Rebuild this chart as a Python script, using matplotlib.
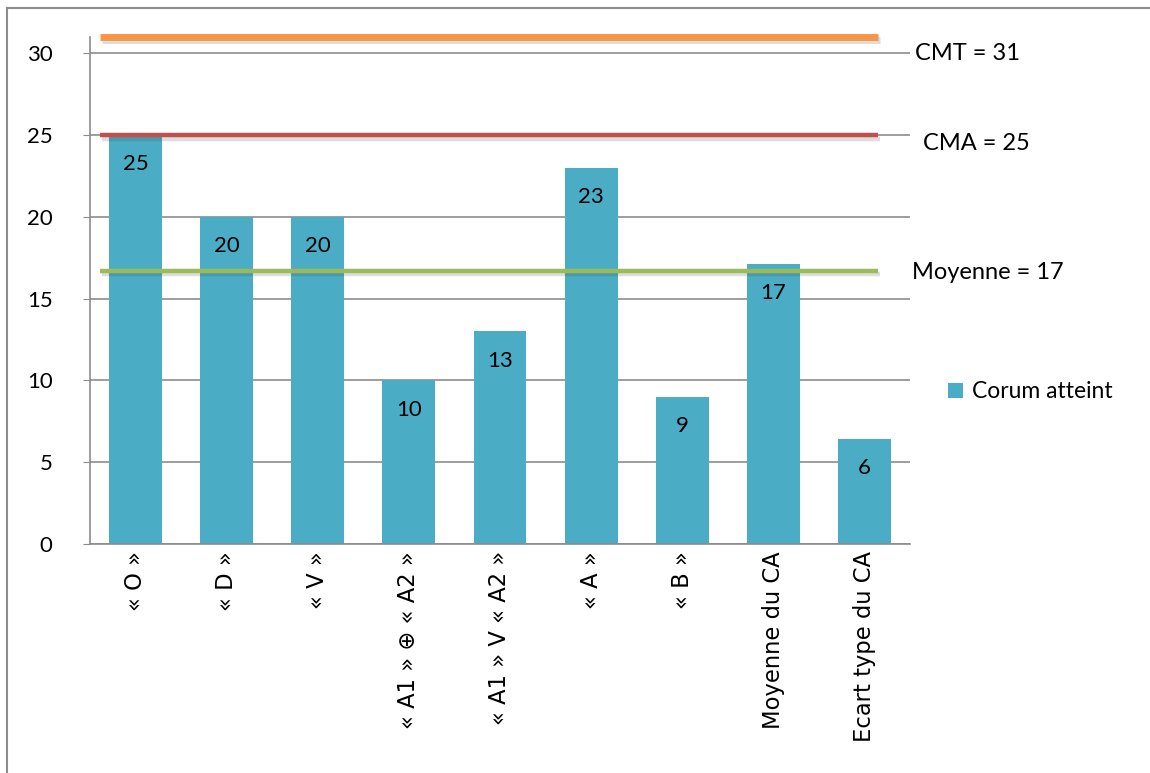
import matplotlib
matplotlib.use("Agg")
import matplotlib.pyplot as plt
from matplotlib.lines import Line2D
import matplotlib.patheffects as pe

plt.rcParams['font.family'] = ['DejaVu Sans']
MAIN = ['Lato', 'DejaVu Sans']

categories = ["« O »", "« D »", "« V »", "« A1 » \u2295 « A2 »", "« A1 » V « A2 »",
              "« A »", "« B »", "Moyenne du CA", "Ecart type du CA"]
values = [25, 20, 20, 10, 13, 23, 9, 17.1, 6.4]
value_labels = ["25", "20", "20", "10", "13", "23", "9", "17", "6"]
series_name = "Corum atteint"

ref_values = [31, 25, 16.7]
ref_labels = ["CMT = 31", "CMA = 25", "Moyenne = 17"]
ref_colors = ["#F79646", "#C0504D", "#9BBB59"]
ref_widths = [5, 3.2, 3.2]

W, H = 1150, 773
fig = plt.figure(figsize=(W / 100, H / 100), dpi=100)
ax = fig.add_axes([90 / W, 1 - 544 / H, 820 / W, (544 - 37) / H])

bar_color = "#4BACC6"
x = list(range(len(categories)))
bars = ax.bar(x, values, width=0.58, color=bar_color, zorder=2, label=series_name)

ax.set_xlim(-0.5, len(categories) - 0.5)
ax.set_ylim(0, 31)
ax.set_yticks([0, 5, 10, 15, 20, 25, 30])
ax.yaxis.grid(True, color="#8C8C8C", linewidth=1.2, zorder=0)
ax.set_axisbelow(True)
for s in ["top", "right"]:
    ax.spines[s].set_visible(False)
for s in ["left", "bottom"]:
    ax.spines[s].set_color("#8C8C8C")
    ax.spines[s].set_linewidth(1.2)
ax.tick_params(axis="y", length=5, color="#8C8C8C", labelsize=16, pad=22,
               labelfontfamily="Lato")
ax.set_xticks(x)
ax.set_xticklabels(categories)
ax.tick_params(axis="x", length=0, pad=5, labelsize=16.3, labelrotation=90)

for xi, v, t in zip(x, values, value_labels):
    ax.annotate(t, (xi, v), xytext=(0, -21), textcoords="offset points",
                ha="center", va="center", fontsize=16, zorder=4, family=MAIN)

for rv, c, lw in zip(ref_values, ref_colors, ref_widths):
    ln = ax.axhline(rv, xmin=10 / 820, xmax=788 / 820, color=c, linewidth=lw,
                    zorder=3, solid_capstyle="butt", clip_on=False)
    ln.set_path_effects([pe.SimpleLineShadow(offset=(1.5, -2.5), alpha=0.18,
                                             shadow_color="#444444"),
                         pe.Normal()])

ytr = ax.get_yaxis_transform()
ax.text(1.006, 30.0, ref_labels[0], transform=ytr, fontsize=17, va="center",
        ha="left", family=MAIN)
ax.text(1.016, 24.5, ref_labels[1], transform=ytr, fontsize=17, va="center",
        ha="left", family=MAIN)
ax.text(1.002, 16.6, ref_labels[2], transform=ytr, fontsize=17, va="center",
        ha="left", family=MAIN)

ax.legend(handles=[bars], labels=[series_name], loc="center left",
          bbox_to_anchor=(948 / W, 1 - 392 / H), bbox_transform=fig.transFigure,
          frameon=False, prop={"family": MAIN, "size": 16.5},
          handlelength=0.65, handleheight=0.65,
          handletextpad=0.4, borderaxespad=0, borderpad=0)

fig.add_artist(Line2D([7 / W, 1.0], [1 - 8 / H, 1 - 8 / H],
                      transform=fig.transFigure, color="#8C8C8C", linewidth=1.5))
fig.add_artist(Line2D([7 / W, 7 / W], [1 - 8 / H, 0.0],
                      transform=fig.transFigure, color="#8C8C8C", linewidth=1.5))

fig.savefig("out.png", dpi=100)
